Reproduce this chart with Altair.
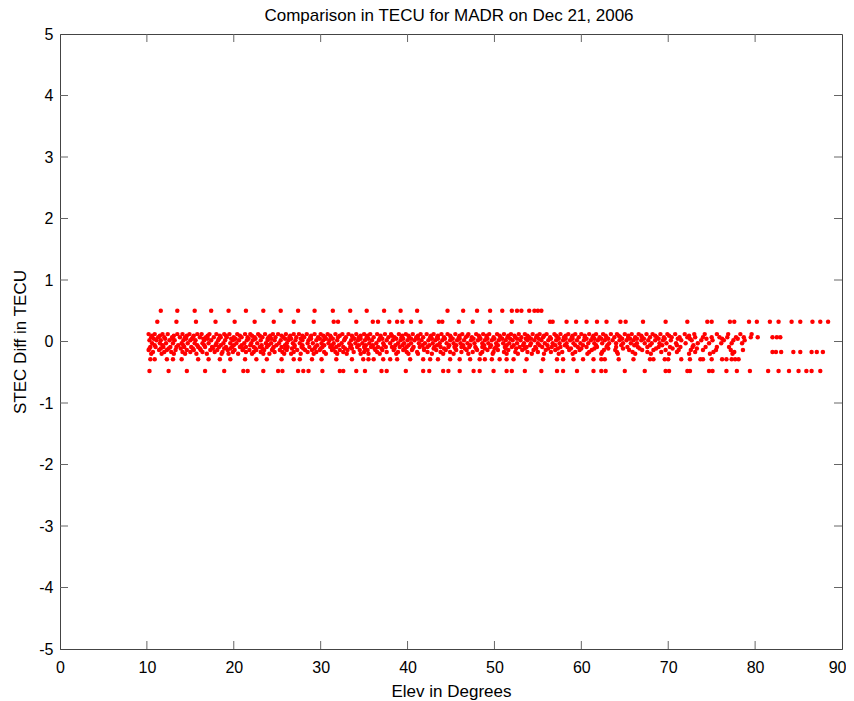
import altair as alt
import pandas as pd

# ---------------- data ----------------
title_text = "Comparison in TECU for MADR on Dec 21, 2006"
x_title = "Elev in Degrees"
y_title = "STEC Diff in TECU"

x_tick_values = [0, 10, 20, 30, 40, 50, 60, 70, 80, 90]
y_tick_values = [-5, -4, -3, -2, -1, 0, 1, 2, 3, 4, 5]
x_inner_ticks = [10, 20, 30, 40, 50, 60, 70, 80]
y_inner_ticks = [-4, -3, -2, -1, 0, 1, 2, 3, 4]

levels = [0.5, 0.32, 0.12, 0.095, 0.07, 0.045, 0.02, -0.03, -0.06, -0.09, -0.115, -0.14,
          -0.17, -0.2, -0.29, -0.48]

elev_p050 = [11.6, 13.5, 15.5, 17.4, 19.4, 21.4, 23.4, 25.4, 27.4, 29.3, 31.4, 33.4, 35.3,
             37.3, 39.2, 41.1, 44.6, 46.4, 48.0, 49.5, 50.9, 52.0, 52.6, 53.1, 54.0, 54.6,
             55.0, 55.4]
elev_p032 = [11.2, 13.4, 15.65, 17.9, 20.1, 22.4, 24.6, 26.9, 29.2, 31.5, 32.0, 34.1, 36.0,
             36.6, 37.9, 38.8, 39.4, 40.4, 41.5, 43.6, 44.0, 45.9, 47.5, 49.5, 52.0, 54.1,
             56.4, 56.7, 58.3, 59.4, 60.6, 61.8, 62.9, 64.5, 65.1, 67.1, 69.7, 72.2, 74.5,
             75.0, 77.1, 77.6, 79.3, 80.2, 81.7, 82.7, 84.2, 85.2, 86.6, 87.5, 88.4]
elev_p012 = [10.2, 10.9, 11.8, 12.4, 13.5, 14.1, 14.9, 15.8, 16.3, 17.2, 18.0, 18.9, 19.5,
             20.4, 21.3, 21.9, 22.8, 23.6, 24.5, 25.1, 26.0, 26.9, 27.5, 28.4, 29.3, 30.0,
             30.8, 31.7, 32.5, 33.2, 34.1, 35.0, 35.7, 36.5, 37.4, 38.1, 39.0, 39.8, 40.6,
             41.5, 42.2, 43.0, 43.9, 44.6, 45.5, 46.3, 47.0, 47.9, 48.7, 49.4, 50.3, 51.1,
             51.9, 52.8, 53.5, 54.4, 55.2, 56.0, 56.9, 57.6, 58.5, 59.3, 60.0, 60.9, 61.7,
             62.5, 63.4, 64.1, 65.0, 65.8, 66.6, 67.5, 68.2, 69.1, 69.9, 70.8, 71.9, 73.0,
             74.2, 75.6, 76.9, 78.3, 79.6]
elev_p095 = [10.6, 11.5, 13.1, 14.6, 15.4, 17.0, 18.4, 19.1, 20.7, 22.1, 23.0, 24.2, 25.5,
             26.5, 27.9, 28.9, 30.3, 31.1, 32.2, 33.6, 34.6, 35.4, 36.9, 38.2, 39.4, 40.1,
             41.2, 42.7, 43.5, 44.9, 46.0, 46.9, 48.2, 49.1, 50.6, 51.6, 52.3, 53.8, 54.9,
             55.7, 57.1, 58.2, 59.0, 60.4, 61.4, 62.8, 64.3, 65.4, 66.9, 68.5, 70.1, 72.4]
elev_p007 = [10.5, 11.3, 12.0, 12.9, 13.8, 14.4, 15.3, 16.1, 16.8, 17.7, 18.5, 19.2, 20.0,
             20.9, 21.6, 22.4, 23.3, 24.0, 24.8, 25.7, 26.4, 27.2, 28.1, 28.8, 29.7, 30.5,
             31.2, 32.0, 32.9, 33.7, 34.4, 35.3, 36.1, 36.9, 37.8, 38.5, 39.3, 40.2, 41.0,
             41.8, 42.6, 43.4, 44.2, 45.0, 45.9, 46.7, 47.4, 48.3, 49.1, 49.9, 50.7, 51.5,
             52.4, 53.1, 54.0, 54.8, 55.6, 56.4, 57.3, 58.0, 58.9, 59.7, 60.4, 61.3, 62.1,
             62.9, 63.8, 64.5, 65.4, 66.2, 67.0, 67.9, 68.7, 69.5, 70.4, 71.3, 72.2, 73.1,
             74.0, 75.0, 75.9, 76.8, 77.8, 78.7, 79.5, 80.3, 82.0, 82.5, 82.9]
elev_p045 = [10.8, 12.1, 13.0, 14.5, 15.2, 16.5, 17.0, 18.3, 19.7, 20.2, 21.7, 22.5, 23.9,
             24.3, 25.9, 26.6, 27.7, 28.9, 29.9, 30.6, 31.4, 32.8, 33.9, 34.6, 35.5, 36.8,
             37.1, 38.7, 39.5, 40.4, 41.2, 42.8, 43.5, 44.3, 45.2, 46.0, 47.6, 48.4, 49.2,
             50.0, 50.9, 51.8, 52.6, 53.6, 54.2, 55.1, 56.5, 57.4, 58.2, 59.0, 60.6, 61.5,
             62.3, 63.1, 64.7, 65.6, 66.4, 67.2, 68.9, 69.6, 71.1, 72.5, 74.4, 76.2, 78.0]
elev_p002 = [10.3, 11.1, 11.6, 12.6, 13.2, 14.2, 15.0, 15.6, 16.6, 17.4, 18.2, 19.0, 19.9,
             20.6, 21.5, 22.2, 23.1, 23.9, 24.7, 25.4, 26.3, 27.1, 27.9, 28.6, 29.5, 30.3,
             31.0, 31.9, 32.7, 33.5, 34.3, 35.1, 35.9, 36.7, 37.6, 38.3, 39.2, 40.0, 40.8,
             41.6, 42.4, 43.2, 44.0, 44.9, 45.7, 46.5, 47.3, 48.1, 48.9, 49.7, 50.5, 51.3,
             52.1, 53.0, 53.8, 54.6, 55.4, 56.2, 57.1, 57.9, 58.7, 59.5, 60.3, 61.1, 61.9,
             62.7, 63.6, 64.4, 65.2, 66.0, 66.9, 67.7, 68.5, 69.4, 70.3, 71.5, 72.7, 73.8,
             75.1, 76.4, 77.5, 78.8]
elev_m003 = [10.6, 11.5, 12.2, 13.0, 14.0, 14.7, 15.5, 16.4, 17.1, 18.0, 18.8, 19.6, 20.3,
             21.2, 22.0, 22.7, 23.7, 24.3, 25.2, 26.1, 26.8, 27.6, 28.5, 29.1, 30.1, 30.9,
             31.5, 32.4, 33.3, 34.0, 34.8, 35.6, 36.4, 37.2, 38.0, 38.9, 39.6, 40.4, 41.3,
             42.0, 42.9, 43.7, 44.5, 45.3, 46.1, 46.9, 47.7, 48.6, 49.3, 50.2, 51.0, 51.7,
             52.6, 53.4, 54.2, 55.0, 55.8, 56.7, 57.5, 58.3, 59.1, 59.9, 60.8, 61.5, 62.4,
             63.2, 64.0, 64.8, 65.7, 66.4, 67.3, 68.1, 69.0, 69.8, 70.9, 72.0, 73.4, 74.7,
             76.1, 77.3, 78.5]
elev_m006 = [10.9, 11.8, 13.6, 14.2, 15.8, 16.6, 17.9, 18.5, 20.0, 20.9, 21.9, 23.2, 24.0,
             24.9, 25.9, 27.0, 27.9, 29.6, 30.4, 31.3, 32.1, 33.5, 34.4, 35.2, 36.0, 37.3,
             38.6, 39.4, 40.1, 41.7, 42.5, 43.4, 44.8, 45.6, 46.4, 47.2, 48.8, 49.6, 50.4,
             51.4, 52.2, 53.3, 54.1, 55.2, 56.1, 57.0, 58.1, 59.3, 60.2, 61.7, 63.0, 64.6,
             66.1, 67.9, 69.3, 71.0, 72.9]
elev_m009 = [10.4, 11.0, 11.9, 12.7, 13.4, 14.3, 15.1, 15.9, 16.7, 17.5, 18.3, 19.1, 19.8,
             20.7, 21.4, 22.3, 23.0, 23.8, 24.6, 25.5, 26.2, 27.0, 27.8, 28.7, 29.4, 30.2,
             31.1, 31.8, 32.6, 33.4, 34.2, 35.0, 35.8, 36.6, 37.5, 38.2, 39.1, 39.9, 40.7,
             41.4, 42.3, 43.1, 43.8, 44.7, 45.4, 46.2, 47.1, 47.8, 48.6, 49.5, 50.2, 51.2,
             52.0, 52.9, 53.7, 54.7, 55.5, 56.6, 57.6, 58.4, 59.6, 60.6, 61.8, 62.9, 64.0,
             65.3, 66.5, 67.6, 68.9, 70.2, 71.4, 72.8, 74.3, 75.6, 77.0]
elev_m0115 = [10.3, 11.6, 12.5, 13.9, 15.3, 16.1, 17.6, 18.9, 19.6, 21.1, 22.5, 23.3, 24.5,
              25.9, 26.7, 28.0, 29.3, 30.0, 31.5, 32.8, 33.6, 35.1, 36.2, 37.0, 38.5, 39.7,
              40.6, 41.9, 43.0, 44.2, 45.5, 46.6, 47.9, 48.9, 50.0, 51.3, 52.5, 53.5, 54.8,
              56.2, 57.3, 58.8, 60.0, 61.5, 63.1, 64.8, 66.7, 68.6, 70.5, 73.3]
elev_m014 = [10.2, 11.4, 12.3, 13.3, 14.6, 15.4, 16.2, 17.3, 18.1, 19.3, 20.1, 21.0, 21.8,
             22.6, 23.5, 24.4, 25.3, 26.1, 27.3, 28.2, 29.0, 29.9, 31.3, 32.2, 33.1, 34.5,
             35.4, 36.3, 37.1, 38.4, 39.5, 40.5, 41.9, 43.3, 44.4, 45.6, 46.8, 48.0, 49.2,
             50.4, 51.6, 53.2, 54.5, 55.9, 57.0, 58.6, 59.8, 61.2, 62.6, 63.9, 65.5, 67.0,
             68.3, 69.7, 71.2, 72.6, 74.0, 75.5, 77.2, 78.6]
elev_m017 = [10.7, 12.0, 12.8, 14.1, 15.0, 16.4, 17.8, 18.7, 19.9, 21.4, 22.3, 23.1, 24.7,
             25.6, 26.9, 28.5, 29.5, 30.4, 31.7, 32.6, 33.8, 35.0, 36.5, 37.6, 38.9, 39.9,
             41.1, 42.3, 43.8, 44.9, 46.2, 47.5, 48.6, 49.9, 51.1, 52.4, 53.8, 55.0, 56.5,
             57.8, 59.3, 60.9, 62.4, 64.1, 65.9, 67.6, 69.2, 71.0, 73.1, 75.2, 77.6,
             82.0, 82.4, 83.0, 84.4, 85.2, 86.5, 87.1, 87.8]
elev_m020 = [10.5, 11.7, 13.1, 14.4, 15.7, 16.9, 18.6, 19.4, 20.5, 22.1, 23.4, 24.1, 25.8,
             26.6, 27.7, 29.2, 30.6, 31.9, 33.0, 34.6, 35.5, 36.8, 38.7, 40.1, 41.2, 42.8,
             44.1, 45.3, 47.0, 48.4, 49.8, 51.4, 52.7, 54.3, 55.7, 57.4, 59.0, 60.7, 62.3,
             64.2, 66.2, 68.0, 70.1, 72.4, 74.8, 77.4]
elev_m029 = [10.4, 10.9, 12.3, 13.0, 14.0, 15.9, 17.1, 18.4, 19.6, 21.3, 22.6, 23.8, 25.5,
             26.9, 27.6, 29.0, 30.1, 31.8, 33.6, 34.9, 35.5, 36.1, 37.2, 38.0, 38.8, 40.3,
             41.8, 42.6, 43.5, 44.9, 46.0, 47.2, 48.3, 48.9, 49.7, 50.6, 51.4, 52.2, 53.7,
             55.6, 57.2, 57.9, 59.1, 60.2, 61.4, 62.3, 62.7, 64.3, 66.0, 67.9, 68.3, 69.6,
             70.0, 71.5, 72.5, 73.7, 74.0, 75.0, 76.2, 76.7, 77.3, 77.7, 78.1]
elev_m048 = [10.3, 12.5, 14.6, 16.7, 18.9, 21.1, 21.6, 23.4, 25.1, 25.6, 27.4, 28.0, 28.6,
             30.2, 32.2, 32.6, 34.1, 35.1, 37.0, 37.6, 39.8, 41.8, 42.5, 44.1, 44.7, 46.0,
             47.6, 48.3, 49.9, 51.4, 52.0, 53.5, 55.4, 57.2, 57.9, 59.5, 61.4, 62.3, 62.8,
             65.0, 67.3, 69.7, 70.1, 72.2, 72.5, 74.7, 75.1, 76.7, 77.9, 79.4, 81.5, 82.7,
             83.9, 85.0, 85.9, 86.5, 87.5]

elev_rows = [elev_p050, elev_p032, elev_p012, elev_p095, elev_p007, elev_p045, elev_p002,
             elev_m003, elev_m006, elev_m009, elev_m0115, elev_m014, elev_m017, elev_m020,
             elev_m029, elev_m048]

# ---------------- build tables ----------------
records = []
for lev, xs in zip(levels, elev_rows):
    for xv in xs:
        records.append({"elev": xv, "diff": lev})
points_df = pd.DataFrame(records)
xt_df = pd.DataFrame({"elev": x_inner_ticks})
yt_df = pd.DataFrame({"diff": y_inner_ticks})
title_df = pd.DataFrame({"t": [title_text]})

FONT = "Liberation Sans"
W, H = 782, 615
PAD_L, PAD_T, PAD_R, PAD_B = 52, 26, 4, 52
TICK = 8
TICK_COLOR = "#666666"
LABEL_EXPR = "'' + datum.value"

xenc = alt.X(
    "elev:Q",
    scale=alt.Scale(domain=[0, 90], nice=False, zero=False),
    axis=alt.Axis(values=x_tick_values, title=x_title, labelPadding=10, grid=False,
                  ticks=False, tickSize=0, labelExpr=LABEL_EXPR,
                  labelAlign={"condition": {"test": "datum.value == 90", "value": "right"},
                              "value": "center"},
                  labelOffset={"condition": {"test": "datum.value == 90", "value": 4},
                               "value": 0},
                  titleX=W / 2, titleY=47, titleAlign="center",
                  titleBaseline="alphabetic", labelFlush=False),
)
yenc = alt.Y(
    "diff:Q",
    scale=alt.Scale(domain=[-5, 5], nice=False, zero=False),
    axis=alt.Axis(values=y_tick_values, title=y_title, labelPadding=7, grid=False,
                  ticks=False, tickSize=0, labelExpr=LABEL_EXPR,
                  titleX=-35, titleY=H / 2, titleAlign="center",
                  titleBaseline="alphabetic", labelFlush=False),
)

pts = alt.Chart(points_df).mark_circle(color="#ff0000", size=20, opacity=1).encode(
    x=xenc, y=yenc)

bottom_ticks = alt.Chart(xt_df).mark_rule(color=TICK_COLOR, strokeWidth=1).encode(
    x=xenc, y=alt.value(H), y2=alt.value(H - TICK))
top_ticks = alt.Chart(xt_df).mark_rule(color=TICK_COLOR, strokeWidth=1).encode(
    x=xenc, y=alt.value(0), y2=alt.value(TICK))
left_ticks = alt.Chart(yt_df).mark_rule(color=TICK_COLOR, strokeWidth=1).encode(
    y=yenc, x=alt.value(0), x2=alt.value(TICK))
right_ticks = alt.Chart(yt_df).mark_rule(color=TICK_COLOR, strokeWidth=1).encode(
    y=yenc, x=alt.value(W), x2=alt.value(W - TICK))

title_mark = alt.Chart(title_df).mark_text(
    font=FONT, fontSize=17, color="#000000", align="center", baseline="alphabetic"
).encode(x=alt.value(W / 2 - 2), y=alt.value(-13), text="t:N")

chart = alt.layer(pts, bottom_ticks, top_ticks, left_ticks, right_ticks, title_mark).properties(
    width=W,
    height=H,
    background="#ffffff",
    autosize=alt.AutoSizeParams(type="none"),
    padding={"left": PAD_L, "top": PAD_T, "right": PAD_R, "bottom": PAD_B},
).configure_view(
    stroke="#444444", strokeWidth=1
).configure_axis(
    grid=False, ticks=False, tickSize=0,
    domainColor="#444444", domainWidth=1,
    labelFont=FONT, labelFontSize=16, labelColor="#000000",
    titleFont=FONT, titleFontSize=17, titleFontWeight="normal", titleColor="#000000",
)

chart.save("out.html", embed_options={"renderer": "svg", "actions": False})
